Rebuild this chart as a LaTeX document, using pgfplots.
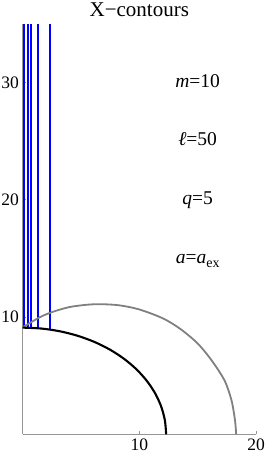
\documentclass[border=0pt]{standalone}
\usepackage{fontspec}
\setmainfont{Liberation Serif}
\usepackage{pgfplots}
\pgfplotsset{compat=1.18}
\definecolor{curvegray}{RGB}{128,128,128}
\definecolor{axisgray}{RGB}{150,150,150}
\definecolor{pureblue}{RGB}{0,0,255}
\begin{document}
\begin{tikzpicture}
\begin{axis}[
  name=ax,
  scale only axis,
  width=233.4pt, height=410.3pt,
  xmin=0, xmax=20, ymin=0, ymax=35,
  axis x line=bottom, axis y line=left,
  axis line style={-, draw=axisgray, line width=0.9pt},
  xtick={10,20}, ytick={10,20,30},
  tick align=inside,
  major tick length=3pt,
  tick style={draw=axisgray, line width=0.8pt},
  /pgf/number format/assume math mode=true,
  ticklabel style={font=\fontsize{17.5}{17.5}\selectfont},
  xticklabel style={anchor=north, inner sep=0pt, yshift=-4pt},
  yticklabel style={anchor=east, inner sep=0pt, xshift=-3.5pt},
  clip=false,
]
% blue X-contours
\addplot[draw=pureblue, line width=1.7pt] coordinates {(0.10,9.10) (0.10,35)};
\addplot[draw=pureblue, line width=1.7pt] coordinates {(0.44,9.09) (0.44,35)};
\addplot[draw=pureblue, line width=1.7pt] coordinates {(0.74,9.08) (0.74,35)};
\addplot[draw=pureblue, line width=1.7pt] coordinates {(1.32,9.05) (1.32,35)};
\addplot[draw=pureblue, line width=1.7pt] coordinates {(2.34,8.93) (2.34,35)};
% grey surface
\addplot[draw=curvegray, line width=1.8pt, smooth] coordinates {
 (0,9.12) (1.5,10.0) (2.6,10.45) (4.0,10.85) (5.5,11.05) (6.7,11.1) (8.3,11.0)
 (10.0,10.65) (12.0,9.9) (13.5,9.0) (15.0,7.75) (16.2,6.3) (17.3,4.6)
 (17.9,2.9) (18.2,1.2) (18.3,0)};
% black horizon
\addplot[draw=black, line width=2.1pt, smooth] coordinates {
 (0,9.10) (1.605,9.022) (3.183,8.790) (4.707,8.407) (6.150,7.881) (7.488,7.220)
 (8.697,6.435) (9.759,5.540) (10.652,4.550) (11.364,3.483) (11.881,2.355)
 (12.194,1.188) (12.3,0)};
\node[anchor=base, font=\fontsize{19.5}{19.5}\selectfont] at (axis cs:15,29.6) {\textit{m}=10};
\node[anchor=base, font=\fontsize{19.5}{19.5}\selectfont] at (axis cs:15,24.6) {\textit{ℓ}=50};
\node[anchor=base, font=\fontsize{19.5}{19.5}\selectfont] at (axis cs:15,19.6) {\textit{q}=5};
\node[anchor=base, font=\fontsize{19.5}{19.5}\selectfont] at (axis cs:15,14.6) {\textit{a}=\textit{a}\raisebox{-0.22em}{\fontsize{14}{14}\selectfont ex}};
\node[anchor=base, inner sep=0pt, font=\fontsize{21}{21}\selectfont] at ([yshift=7.3pt]rel axis cs:0.5,1) {X−contours};
\end{axis}
\pgfresetboundingbox
\path (ax.south west) ++(-22.6pt,-23.7pt) rectangle ++(267pt,458pt);
\end{tikzpicture}
\end{document}
